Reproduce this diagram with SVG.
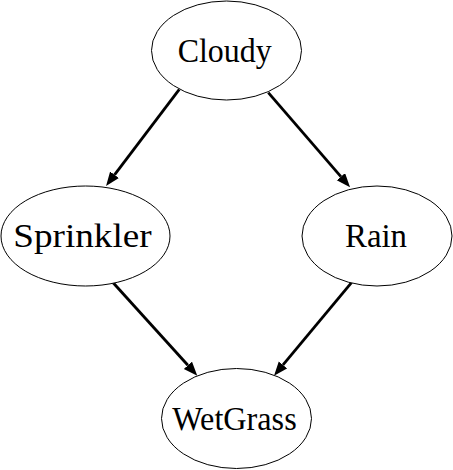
<svg xmlns="http://www.w3.org/2000/svg" width="453" height="470" viewBox="0 0 453 470">
<defs>
<style>
.node ellipse{fill:#fff;stroke:#000;stroke-width:1}
.node text{font-family:"Liberation Serif","DejaVu Serif",serif;font-size:33px;fill:#000;text-anchor:middle}
.edge{fill:none;stroke:#000;stroke-width:2.8;marker-end:url(#arrow)}
</style>
<marker id="arrow" markerUnits="userSpaceOnUse" markerWidth="16" markerHeight="12" refX="0" refY="5.5" orient="auto">
<path d="M0,0 L14,5.5 L0,11 z" fill="#000"/>
</marker>
</defs>
<rect width="453" height="470" fill="#fff"/>
<g id="connectors">
<path class="edge" d="M179.3,89.3 L114.5,174.8"/>
<path class="edge" d="M268.3,92.7 L340.9,176.7"/>
<path class="edge" d="M112.7,282.3 L187.9,365.3"/>
<path class="edge" d="M351.7,282.3 L283,364.9"/>
</g>
<g id="cloudy" class="node">
<ellipse cx="226.5" cy="50.5" rx="75" ry="49.5"/>
<text x="224.7" y="61.7" textLength="94" lengthAdjust="spacingAndGlyphs">Cloudy</text>
</g>
<g id="sprinkler" class="node">
<ellipse cx="85.5" cy="236" rx="84.5" ry="50"/>
<text x="82.5" y="246.7" textLength="138.4" lengthAdjust="spacingAndGlyphs">Sprinkler</text>
</g>
<g id="rain" class="node">
<ellipse cx="377" cy="236" rx="75" ry="50"/>
<text x="376" y="246.7" textLength="62" lengthAdjust="spacingAndGlyphs">Rain</text>
</g>
<g id="wetgrass" class="node">
<ellipse cx="236.5" cy="418.5" rx="75" ry="50"/>
<text x="234.5" y="430" textLength="124.4" lengthAdjust="spacingAndGlyphs">WetGrass</text>
</g>
</svg>
